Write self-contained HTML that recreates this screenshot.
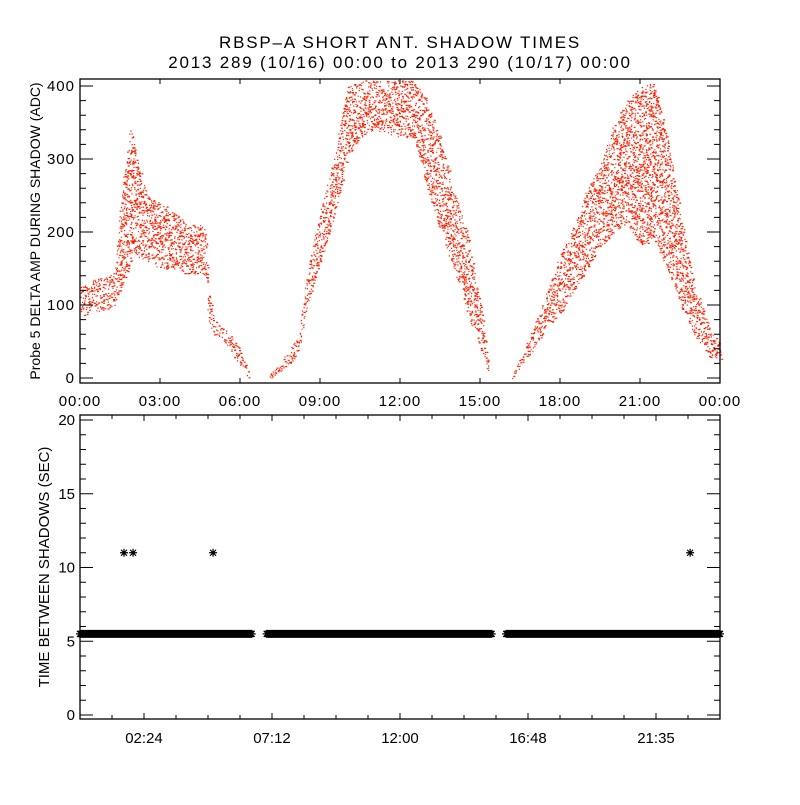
<!DOCTYPE html>
<html><head><meta charset="utf-8"><style>
html,body{margin:0;padding:0;background:#fff}
svg text{font-family:"Liberation Sans",sans-serif;fill:#000}
</style></head><body>
<svg id="chart" width="800" height="800" viewBox="0 0 800 800" xmlns="http://www.w3.org/2000/svg">
<rect width="800" height="800" fill="#fff"/>
<text x="400" y="48" text-anchor="middle" font-size="17" letter-spacing="1.8">RBSP–A SHORT ANT. SHADOW TIMES</text>
<text x="400" y="68" text-anchor="middle" font-size="17" letter-spacing="1.8">2013 289 (10/16) 00:00 to 2013 290 (10/17) 00:00</text>
<g id="topPanel"></g>
<g id="botPanel"></g>
<text transform="translate(40,231) rotate(-90)" text-anchor="middle" font-size="14">Probe 5 DELTA AMP DURING SHADOW (ADC)</text>
<text transform="translate(49,567) rotate(-90)" text-anchor="middle" font-size="15">TIME BETWEEN SHADOWS (SEC)</text>
</svg>
<script>
// ---- top panel data: amplitude envelope (hours, low ADC, high ADC) ----
const bandHours = [0,0.5,1.0,1.3,1.5,1.9,2.0,2.5,3.0,3.5,4.0,4.5,4.7,4.8,5.0,5.5,6.0,6.3];
const bandLow   = [85,90,95,100,120,160,170,160,150,150,140,145,140,80,60,45,15,0];
const bandHigh  = [125,135,140,145,250,350,320,250,240,230,210,210,200,130,80,65,40,10];
const band2Hours = [7.1,7.5,8.0,8.2,8.5,9.0,9.5,10.0,10.5,11.0,12.0,12.5,13.0,13.5,14.0,14.5,15.0,15.2,15.3];
const band2Low   = [0,10,25,40,100,160,220,300,330,340,330,330,260,200,150,90,40,20,0];
const band2High  = [5,20,50,60,150,230,300,400,408,408,408,408,380,330,260,200,100,50,20];
const band3Hours = [16.2,16.5,17.0,17.5,18.0,18.5,19.0,19.5,20.0,20.5,21.0,21.5,22.0,22.5,23.0,23.5,24.0];
const band3Low   = [0,15,40,70,90,120,150,180,200,210,180,190,150,100,60,30,25];
const band3High  = [5,30,70,120,170,210,260,290,350,380,400,408,330,230,130,80,45];
const topYTicks = [0,100,200,300,400];
const topXLabels = ["00:00","03:00","06:00","09:00","12:00","15:00","18:00","21:00","00:00"];
// ---- bottom panel data ----
const segStart = [0,7.0,15.98];
const segEnd   = [6.45,15.45,24];
const segValue = [5.5,5.5,5.5];
const outlierHours = [1.65,1.99,4.99,22.88];
const outlierValues = [11,11,11,11];
const botYTicks = [0,5,10,15,20];
const botXLabels = ["02:24","07:12","12:00","16:48","21:35"];

const NS="http://www.w3.org/2000/svg";
function mk(tag,attrs,parent){const e=document.createElementNS(NS,tag);for(const k in attrs)e.setAttribute(k,attrs[k]);parent.appendChild(e);return e;}
const L=80,R=720;
const xS=h=>L+(R-L)*h/24;
const tT=79,tB=383;
const yT=v=>378-v*0.73;
const bT=415,bB=719;
const yB=v=>715-v*14.75;
const topG=document.getElementById('topPanel'), botG=document.getElementById('botPanel');

let seed=12345;function rnd(){seed=(seed*1103515245+12345)&0x7fffffff;return seed/0x7fffffff;}
function interp(xs,ys,h){for(let i=0;i<xs.length-1;i++){if(h>=xs[i]&&h<=xs[i+1]){const f=(h-xs[i])/(xs[i+1]-xs[i]);return ys[i]+f*(ys[i+1]-ys[i]);}}return null;}
const dots=mk('g',{fill:'#ff2000'},topG);


let dpath='';
function drawBand(hs,lo,hi){
  for(let h=hs[0];h<=hs[hs.length-1];h+=0.02){
    const a=interp(hs,lo,h),b=interp(hs,hi,h);if(a===null)continue;
    const span=(b-a)*0.73;const n=Math.max(1,Math.round(span*0.1));
    for(let k=0;k<n;k++){
      const v=a+(b-a)*rnd();const y=yT(v);if(y<tT+1)continue;
      const x=xS(h)+rnd()*1.2;
      const w=rnd()<0.3?2:1.2;
      dpath+=`M${x.toFixed(1)} ${y.toFixed(1)}h${w}v1.2h-${w}z`;
    }
  }
}
drawBand(bandHours,bandLow,bandHigh);
drawBand(band2Hours,band2Low,band2High);
drawBand(band3Hours,band3Low,band3High);
mk('path',{d:dpath},dots);

function frame(g,t,b,name){const r=mk('rect',{x:L,y:t,width:R-L,height:b-t,fill:'none',stroke:'#000','stroke-width':1.3},g);}
frame(topG,tT,tB,'top-plot-frame');frame(botG,bT,bB,'bottom-plot-frame');

let tk='';
for(let v=0;v<=400;v+=20){const y=yT(v);const len=v%100===0?13:6;tk+=`M${L} ${y}h${len}M${R} ${y}h-${len}`;}
for(let i=0;i<=8;i++){const x=xS(i*3);tk+=`M${x} ${tB}v-5M${x} ${tT}v5`;}
const tt=mk('path',{d:tk,stroke:'#000','stroke-width':1,fill:'none'},topG);

topYTicks.forEach(v=>{const t=mk('text',{x:L-5,y:yT(v)+5,'text-anchor':'end','font-size':15,'letter-spacing':1},topG);t.textContent=v;
});
topXLabels.forEach((s,i)=>{const t=mk('text',{x:xS(i*3),y:406,'text-anchor':'middle','font-size':15,'letter-spacing':1},topG);t.textContent=s;
});

let bk='';
for(let v=0;v<=20;v++){const y=yB(v);const len=v%5===0?13:6;bk+=`M${L} ${y}h${len}M${R} ${y}h-${len}`;}
for(let i=0;i<=20;i++){const x=xS(i*1.2);const len=(i%4===2)?6:4;bk+=`M${x} ${bB}v-${len}M${x} ${bT}v${len}`;}
const bt=mk('path',{d:bk,stroke:'#000','stroke-width':1,fill:'none'},botG);

botYTicks.forEach(v=>{const t=mk('text',{x:L-5,y:yB(v)+5,'text-anchor':'end','font-size':15},botG);t.textContent=v;
});
botXLabels.forEach((s,i)=>{const t=mk('text',{x:xS((2*i+1)*2.4),y:743,'text-anchor':'middle','font-size':15},botG);t.textContent=s;
});

function star(x,y){return `M${x-4} ${y}h8M${x} ${y-4}v8M${x-3} ${y-3}l6 6M${x-3} ${y+3}l6 -6`;}
let sp='';
segStart.forEach((s,i)=>{for(let h=s;h<=segEnd[i]+1e-6;h+=0.02){sp+=star(xS(h),yB(segValue[i]));}});
const seg=mk('path',{d:sp,stroke:'#000','stroke-width':1.2,fill:'none'},botG);

let op='';
outlierHours.forEach((h,i)=>{op+=star(xS(h),yB(outlierValues[i]));});
const out=mk('path',{d:op,stroke:'#000','stroke-width':1.2,fill:'none'},botG);

</script>
</body></html>
